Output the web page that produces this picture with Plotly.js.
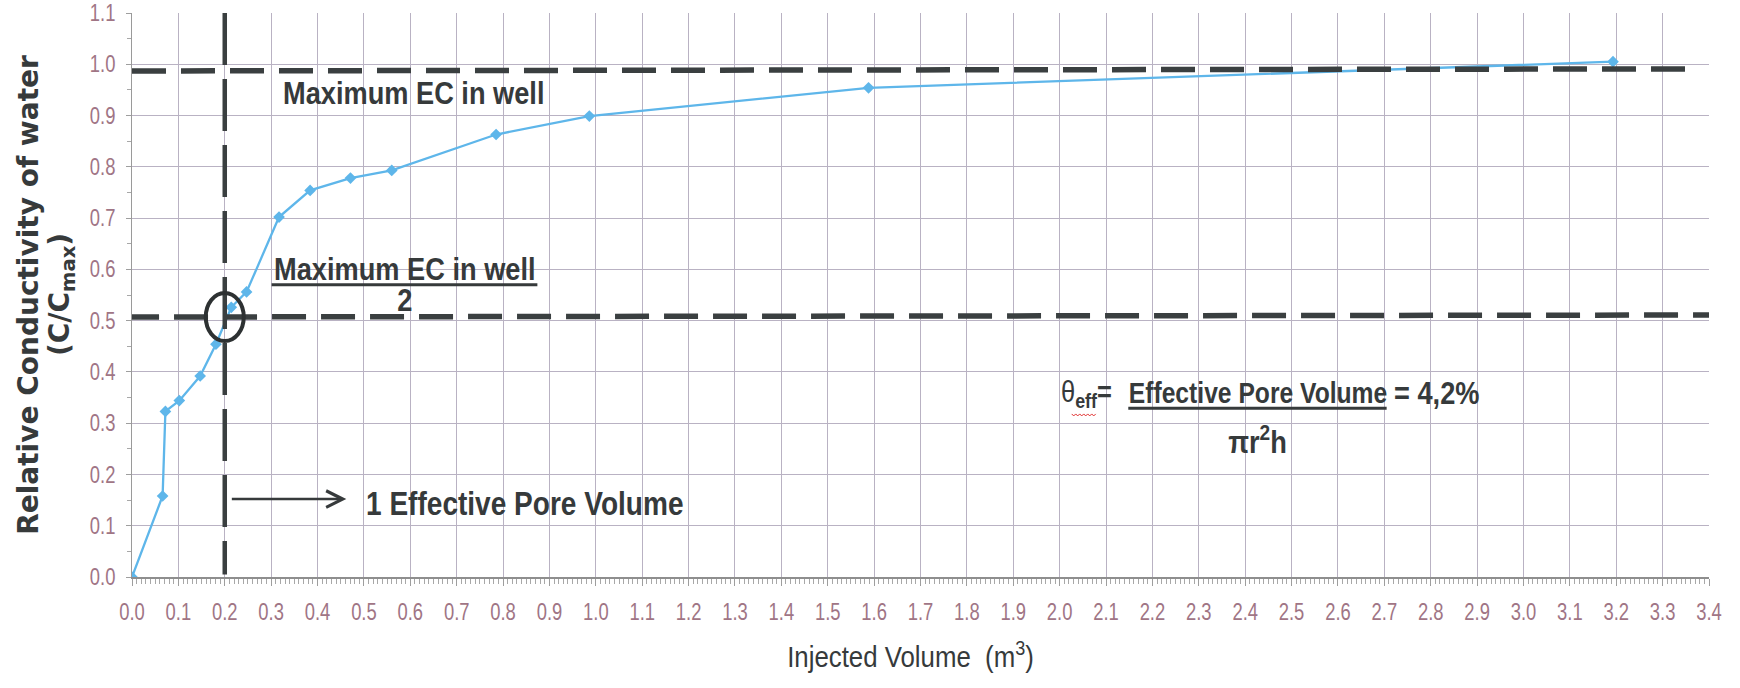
<!DOCTYPE html>
<html>
<head>
<meta charset="utf-8">
<script src="https://cdn.plot.ly/plotly-3.0.1.min.js"></script>
<style>
  html, body { margin: 0; padding: 0; background: #ffffff; }
  #chart { width: 1740px; height: 688px; }
</style>
</head>
<body>
<div id="chart"></div>
<script>
// ---- data ----
const injectedVolume = [0, 0.066, 0.072, 0.102, 0.147, 0.181, 0.214, 0.247, 0.317, 0.384, 0.471, 0.560, 0.785, 0.986, 1.588, 3.193];
const relativeConductivity = [0, 0.158, 0.323, 0.344, 0.392, 0.454, 0.526, 0.556, 0.702, 0.754, 0.778, 0.793, 0.863, 0.899, 0.954, 1.005];

// reference levels drawn as dashed guide lines
const maxEcLevel = [0.987, 0.991];      // "Maximum EC in well" (left end, right end)
const halfEcLevel = [0.507, 0.511];     // "Maximum EC in well / 2"
const porevolumeX = 0.2;                // 1 effective pore volume (m3)

// axis ticks
const xTickText = ['0.0','0.1','0.2','0.3','0.4','0.5','0.6','0.7','0.8','0.9','1.0','1.1','1.2','1.3','1.4','1.5','1.6','1.7','1.8','1.9','2.0','2.1','2.2','2.3','2.4','2.5','2.6','2.7','2.8','2.9','3.0','3.1','3.2','3.3','3.4'];
const xTickVals = xTickText.map(t => parseFloat(t));
const yTickText = ['0.0','0.1','0.2','0.3','0.4','0.5','0.6','0.7','0.8','0.9','1.0','1.1'];
const yTickVals = yTickText.map(t => parseFloat(t));

// ---- styling ----
const sans = "'Liberation Sans', Arial, sans-serif";
const wide = "'DejaVu Sans', sans-serif";
const ink = '#363a3b';
const tickColor = '#a07585';
const gridColor = '#b9b2c3';
const dashColor = '#3a3f40';

const trace = {
  x: injectedVolume,
  y: relativeConductivity,
  type: 'scatter',
  mode: 'lines+markers',
  line: { color: '#5eb6ea', width: 2.3 },
  marker: { symbol: 'diamond', size: 9, color: '#5eb6ea' },
  hoverinfo: 'x+y',
  showlegend: false
};

const shapes = [
  // Maximum EC in well
  { type: 'line', xref: 'x', yref: 'y', x0: 0.0, x1: 3.36, y0: maxEcLevel[0], y1: maxEcLevel[1],
    line: { color: dashColor, width: 5.5, dash: '34px,15px' } },
  // half of maximum EC
  { type: 'line', xref: 'x', yref: 'y', x0: -0.015, x1: 3.4, y0: halfEcLevel[0], y1: halfEcLevel[1],
    line: { color: dashColor, width: 5.5, dash: '34px,15px' } },
  // 1 effective pore volume
  { type: 'line', xref: 'x', yref: 'y', x0: porevolumeX, x1: porevolumeX, y0: 1.1, y1: 0.005,
    line: { color: dashColor, width: 4.5, dash: '52px,14px' } },
  // circle at intersection
  { type: 'circle', xref: 'x', yref: 'y', xsizemode: 'pixel', ysizemode: 'pixel',
    xanchor: porevolumeX, yanchor: halfEcLevel[0], x0: -19, x1: 19, y0: -24, y1: 24,
    line: { color: '#2d3132', width: 4 } },
  // fraction bar of "Maximum EC in well / 2"
  { type: 'line', xref: 'x', yref: 'y', x0: 0.301, x1: 0.874, y0: 0.570, y1: 0.570,
    line: { color: ink, width: 3 } },
  // fraction bar of theta equation
  { type: 'line', xref: 'x', yref: 'y', x0: 2.148, x1: 2.705, y0: 0.329, y1: 0.329,
    line: { color: ink, width: 3 } },
  // red spell-check squiggle under "eff"
  { type: 'path', xref: 'x', yref: 'y', xsizemode: 'pixel', ysizemode: 'pixel',
    xanchor: 2.026, yanchor: 0.318,
    path: 'M0,0 L2,-2 L4,0 L6,-2 L8,0 L10,-2 L12,0 L14,-2 L16,0 L18,-2 L20,0 L22,-2 L24,0',
    line: { color: '#e03030', width: 1 } }
];

const annotations = [
  { xref: 'x', yref: 'y', x: 0.321, y: 0.944, xanchor: 'left', align: 'left', yanchor: 'middle', showarrow: false,
    text: '<b>Maximum EC in well</b>', font: { family: sans, size: 32, color: ink } },
  { xref: 'x', yref: 'y', x: 0.588, y: 0.600, xanchor: 'center', yanchor: 'middle', showarrow: false,
    text: '<b>Maximum EC in well</b>', font: { family: sans, size: 32, color: ink } },
  { xref: 'x', yref: 'y', x: 0.588, y: 0.541, xanchor: 'center', yanchor: 'middle', showarrow: false,
    text: '<b>2</b>', font: { family: sans, size: 32, color: ink } },
  // arrow to "1 Effective Pore Volume"
  { xref: 'x', yref: 'y', axref: 'x', ayref: 'y', x: 0.462, y: 0.152, ax: 0.212, ay: 0.152,
    text: '', showarrow: true, arrowhead: 5, arrowsize: 1.3, arrowwidth: 2.5, arrowcolor: ink },
  { xref: 'x', yref: 'y', x: 0.500, y: 0.144, xanchor: 'left', align: 'left', yanchor: 'middle', showarrow: false,
    text: '<b>1 Effective Pore Volume</b>', font: { family: sans, size: 33, color: ink } },
  // theta equation
  { xref: 'x', yref: 'y', x: 2.118, y: 0.357, xanchor: 'right', align: 'right', yanchor: 'middle', showarrow: false,
    text: 'θ<sub><b>eff</b></sub><b>=</b>', font: { family: sans, size: 30, color: ink } },
  { xref: 'x', yref: 'y', x: 2.427, y: 0.359, xanchor: 'center', yanchor: 'middle', showarrow: false,
    text: '<b>Effective Pore Volume</b>', font: { family: sans, size: 29, color: ink } },
  { xref: 'x', yref: 'y', x: 2.716, y: 0.359, xanchor: 'left', align: 'left', yanchor: 'middle', showarrow: false,
    text: '<b>= 4,2%</b>', font: { family: sans, size: 32, color: ink } },
  { xref: 'x', yref: 'y', x: 2.427, y: 0.267, xanchor: 'center', yanchor: 'middle', showarrow: false,
    text: '<b>πr<sup>2</sup>h</b>', font: { family: sans, size: 32, color: ink } },
  // second line of the y-axis title (vertical, not condensed)
  { xref: 'paper', yref: 'paper', x: -0.0450, y: 0.500, xanchor: 'center', yanchor: 'middle', showarrow: false,
    textangle: -90, text: '<b>(C/C<sub>max</sub>)</b>', font: { family: wide, size: 28, color: ink } }
];
const VERTICAL_ANN = annotations.length - 1;

const layout = {
  width: 1740,
  height: 688,
  paper_bgcolor: '#ffffff',
  plot_bgcolor: '#ffffff',
  margin: { l: 132, r: 31, t: 13, b: 111, pad: 0 },
  showlegend: false,
  xaxis: {
    range: [0, 3.4],
    tickmode: 'array', tickvals: xTickVals, ticktext: xTickText,
    ticks: 'outside', ticklen: 7, tickcolor: '#9e9e9e', tickwidth: 1,
    minor: { dtick: 0.01, ticks: 'outside', ticklen: 5, tickcolor: '#a8a8a8', showgrid: false },
    ticklabelstandoff: 7, ticklabeloverflow: 'allow',
    tickfont: { family: sans, size: 23, color: tickColor },
    showgrid: true, gridcolor: gridColor, gridwidth: 1,
    zeroline: false, showline: true, linecolor: '#8e8e8e', linewidth: 1.5, mirror: false,
    title: { text: 'Injected Volume  (m<sup>3</sup>)', standoff: 22,
             font: { family: sans, size: 30, color: ink } },
    automargin: false
  },
  yaxis: {
    range: [0, 1.1],
    tickmode: 'array', tickvals: yTickVals, ticktext: yTickText,
    ticks: 'outside', ticklen: 5, tickcolor: '#9e9e9e', tickwidth: 1,
    minor: { dtick: 0.05, ticks: 'outside', ticklen: 4, tickcolor: '#a8a8a8', showgrid: false },
    ticklabelstandoff: 6, ticklabeloverflow: 'allow',
    tickfont: { family: sans, size: 23, color: tickColor },
    showgrid: true, gridcolor: gridColor, gridwidth: 1,
    zeroline: false, showline: true, linecolor: '#9a9a9a', linewidth: 1, mirror: false,
    title: { text: '<b>Relative Conductivity of water</b>', standoff: 36,
             font: { family: wide, size: 28, color: ink } },
    automargin: false
  },
  shapes: shapes,
  annotations: annotations
};

// the reference uses a horizontally condensed face: squeeze horizontal texts
function condense(gd) {
  const squeezeEl = (t, f) => {
    const len = t.getComputedTextLength();
    if (len > 0) {
      t.setAttribute('textLength', (len * f).toFixed(2));
      t.setAttribute('lengthAdjust', 'spacingAndGlyphs');
    }
  };
  const squeeze = (selector, f) => gd.querySelectorAll(selector).forEach(t => squeezeEl(t, f));
  squeeze('g.xtick text', 0.80);
  squeeze('g.ytick text', 0.80);
  gd.querySelectorAll('g.annotation').forEach(g => {
    if (String(g.getAttribute('data-index')) === String(VERTICAL_ANN)) return;
    g.querySelectorAll('text.annotation-text').forEach(t => squeezeEl(t, 0.85));
  });
  gd.querySelectorAll('text.xtitle').forEach(t => {
    squeezeEl(t, 0.86);
    const x0 = parseFloat(t.getAttribute('x'));
    if (!isNaN(x0)) t.setAttribute('x', (x0 - 10).toFixed(2));
  });
}

Plotly.newPlot('chart', [trace], layout, { staticPlot: true, displayModeBar: false })
  .then(condense);
</script>
</body>
</html>
